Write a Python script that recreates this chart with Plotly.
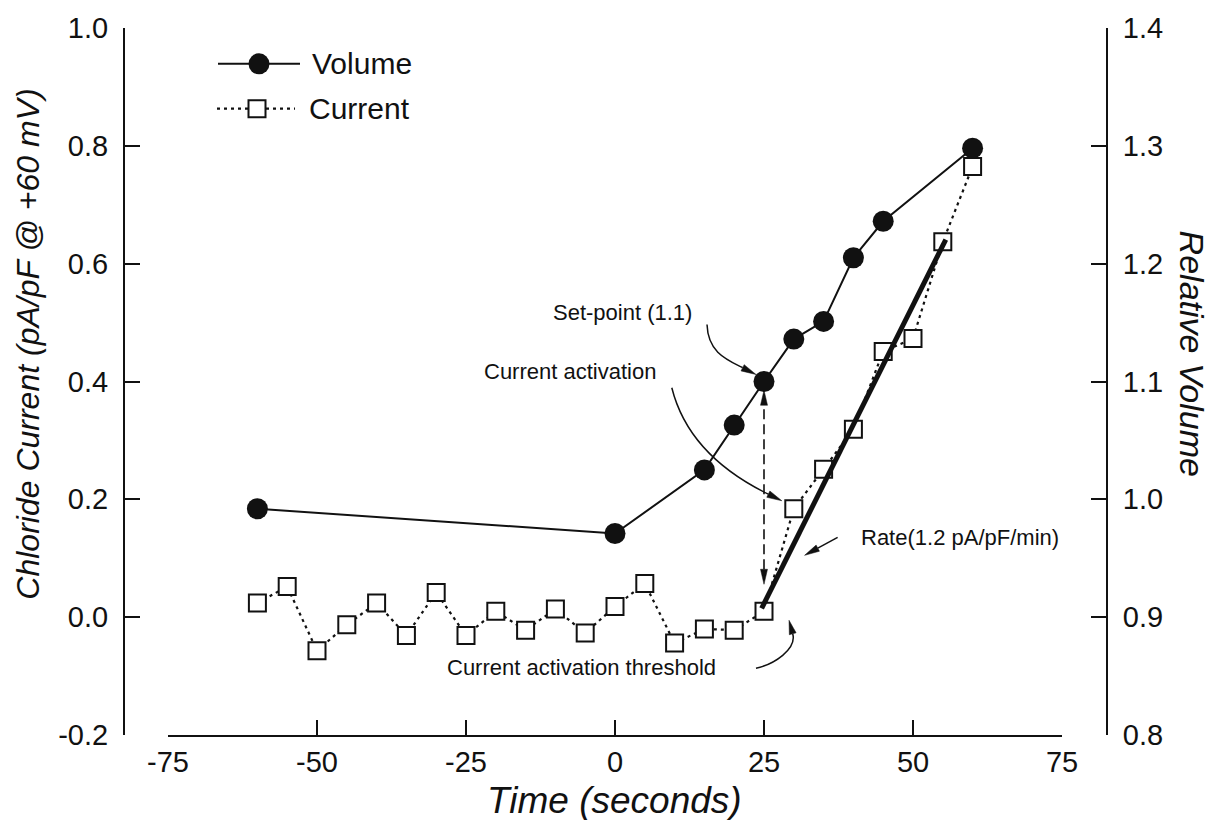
import math
import plotly.graph_objects as go

# ---------------- data ----------------
time_volume = [-60, 0, 15, 20, 25, 30, 35, 40, 45, 60]
relative_volume = [0.992, 0.971, 1.025, 1.063, 1.100, 1.136, 1.151, 1.205, 1.236, 1.298]

time_current = [-60, -55, -50, -45, -40, -35, -30, -25, -20, -15, -10, -5, 0,
                5, 10, 15, 20, 25, 30, 35, 40, 45, 50, 55, 60]
chloride_current = [0.024, 0.052, -0.057, -0.013, 0.024, -0.031, 0.042, -0.031, 0.010,
                    -0.022, 0.014, -0.027, 0.018, 0.057, -0.044, -0.020, -0.022, 0.010,
                    0.184, 0.251, 0.319, 0.451, 0.473, 0.637, 0.765]

fit_time = [24.6, 55.5]
fit_current = [0.015, 0.641]

x_ticks = [-75, -50, -25, 0, 25, 50, 75]
x_ticklabels = ["-75", "-50", "-25", "0", "25", "50", "75"]
y_ticks = [-0.2, 0.0, 0.2, 0.4, 0.6, 0.8, 1.0]
y_ticklabels = ["-0.2", "0.0", "0.2", "0.4", "0.6", "0.8", "1.0"]
y2_ticks = [0.8, 0.9, 1.0, 1.1, 1.2, 1.3, 1.4]
y2_ticklabels = ["0.8", "0.9", "1.0", "1.1", "1.2", "1.3", "1.4"]

series_names = ["Volume", "Current"]
x_title = "Time (seconds)"
y_title = "Chloride Current (pA/pF @ +60 mV)"
y2_title = "Relative Volume"
label_setpoint = "Set-point (1.1)"
label_activation = "Current activation"
label_rate = "Rate(1.2 pA/pF/min)"
label_threshold = "Current activation threshold"

# ---------------- style ----------------
INK = "#111111"
FONT = "Liberation Sans, Arial, Helvetica, sans-serif"
TICK_SIZE = 29
LEGEND_SIZE = 30
NOTE_SIZE = 22

fig = go.Figure()

fig.add_trace(go.Scatter(
    x=time_current, y=chloride_current, name=series_names[1], mode="lines+markers",
    line=dict(color=INK, width=2.2, dash="3px,4px"),
    marker=dict(symbol="square", size=17, color="white", line=dict(color=INK, width=2)),
    yaxis="y", showlegend=False))

fig.add_trace(go.Scatter(
    x=fit_time, y=fit_current, mode="lines", line=dict(color=INK, width=5),
    yaxis="y", showlegend=False, hoverinfo="skip"))

fig.add_trace(go.Scatter(
    x=time_volume, y=relative_volume, name=series_names[0], mode="lines+markers",
    line=dict(color=INK, width=2),
    marker=dict(symbol="circle", size=21, color=INK),
    yaxis="y2", showlegend=False))


# ---------------- arrows (pixel offsets around anchor points) ----------------
def head_path(tip, direction, length=15, width=7):
    ux, uy = direction
    n = math.hypot(ux, uy)
    ux, uy = ux / n, uy / n
    bx, by = tip[0] - length * ux, tip[1] - length * uy
    px, py = -uy * width / 2, ux * width / 2
    path = (f"M{tip[0]:.2f},{tip[1]:.2f} L{bx + px:.2f},{by + py:.2f} "
            f"L{bx - px:.2f},{by - py:.2f} Z")
    return path, (bx, by)


def arrow(xref, yref, xa, ya, start, tip, c1=None, c2=None, lw=1.5, head=15, hw=7):
    ref = c2 if c2 is not None else start
    hp, base = head_path(tip, (tip[0] - ref[0], tip[1] - ref[1]), head, hw)
    if c1 is None:
        lp = f"M{start[0]:.2f},{start[1]:.2f} L{base[0]:.2f},{base[1]:.2f}"
    else:
        lp = (f"M{start[0]:.2f},{start[1]:.2f} C{c1[0]:.2f},{c1[1]:.2f} "
              f"{c2[0]:.2f},{c2[1]:.2f} {base[0]:.2f},{base[1]:.2f}")
    common = dict(xref=xref, yref=yref, xsizemode="pixel", ysizemode="pixel",
                  xanchor=xa, yanchor=ya, layer="above")
    return [dict(type="path", path=lp, line=dict(color=INK, width=lw), **common),
            dict(type="path", path=hp, fillcolor=INK, line=dict(color=INK, width=0.5), **common)]


iv = time_volume.index(25)
ic25 = time_current.index(25)
ic30 = time_current.index(30)

shapes = []
# Set-point arrow -> volume point at 25 s
shapes += arrow("x", "y2", time_volume[iv], relative_volume[iv],
                start=(-57, 57), c1=(-56, 30), c2=(-39, 22.6), tip=(-8, 7))
# Current activation arrow -> current point at 30 s
shapes += arrow("x", "y", time_current[ic30], chloride_current[ic30],
                start=(-122, 121), c1=(-107, 61), c2=(-57, 30), tip=(-12, 8))
# Threshold arrow -> current point at 25 s
shapes += arrow("x", "y", time_current[ic25], chloride_current[ic25],
                start=(-8, -57), c1=(10, -53), c2=(33, -38), tip=(25, -9), head=14)
# Rate arrow -> fitted line
shapes += arrow("x", "y", fit_time[0], fit_current[0],
                start=(76, 71), tip=(43, 53), head=15)

# dashed double arrow between current(25) and volume(25)
dcommon = dict(xref="x", yref="y", xsizemode="pixel", ysizemode="pixel",
               xanchor=time_current[ic25], yanchor=chloride_current[ic25], layer="above")
hp_dn, b_dn = head_path((0, 27), (0, -1), 15, 7)
hp_up, b_up = head_path((0, 221), (0, 1), 15, 7)
shapes.append(dict(type="path", path=f"M0,{b_dn[1]:.2f} L0,{b_up[1]:.2f}",
                   line=dict(color=INK, width=1.6, dash="10px,5px"), **dcommon))
shapes.append(dict(type="path", path=hp_dn, fillcolor=INK, line=dict(color=INK, width=0.5), **dcommon))
shapes.append(dict(type="path", path=hp_up, fillcolor=INK, line=dict(color=INK, width=0.5), **dcommon))

# ---------------- manual legend (paper coords) ----------------
L, R, T, B = 124, 110, 25, 85
W, H = 1217, 820
PW, PH = W - L - R, H - T - B


def px2paper(px, py):
    return (px - L) / PW, (H - B - py) / PH


lx0, ly_v = px2paper(218, 61)
lx1, _ = px2paper(300, 61)
mx_v, _ = px2paper(259, 61)
tx_v, _ = px2paper(310, 61)
cx0, ly_c = px2paper(217, 106)
cx1, _ = px2paper(295, 106)
mx_c, _ = px2paper(257, 106)
tx_c, _ = px2paper(307, 106)

shapes.append(dict(type="line", xref="paper", yref="paper", x0=lx0, x1=lx1, y0=ly_v, y1=ly_v,
                   line=dict(color=INK, width=2)))
shapes.append(dict(type="circle", xref="paper", yref="paper", xsizemode="pixel", ysizemode="pixel",
                   xanchor=mx_v, yanchor=ly_v, x0=-10.5, x1=10.5, y0=-10.5, y1=10.5,
                   fillcolor=INK, line=dict(color=INK, width=0)))
shapes.append(dict(type="line", xref="paper", yref="paper", x0=cx0, x1=cx1, y0=ly_c, y1=ly_c,
                   line=dict(color=INK, width=2.2, dash="3px,4px")))
shapes.append(dict(type="rect", xref="paper", yref="paper", xsizemode="pixel", ysizemode="pixel",
                   xanchor=mx_c, yanchor=ly_c, x0=-8.5, x1=8.5, y0=-8.5, y1=8.5,
                   fillcolor="white", line=dict(color=INK, width=2)))

annotations = [
    dict(text=series_names[0], xref="paper", yref="paper", x=tx_v, y=ly_v, xanchor="left",
         yanchor="middle", showarrow=False, font=dict(size=LEGEND_SIZE, color=INK, family=FONT)),
    dict(text=series_names[1], xref="paper", yref="paper", x=tx_c, y=ly_c, xanchor="left",
         yanchor="middle", showarrow=False, font=dict(size=LEGEND_SIZE, color=INK, family=FONT)),
]

# axis titles
ax_x, ax_y = px2paper(614, 801)
ay_x, ay_y = px2paper(28, 343)
ay2_x, ay2_y = px2paper(1192, 352)
annotations += [
    dict(text=f"<i>{x_title}</i>", xref="paper", yref="paper", x=ax_x, y=ax_y, xanchor="center",
         yanchor="middle", showarrow=False, font=dict(size=37, color=INK, family=FONT)),
    dict(text=f"<i>{y_title}</i>", xref="paper", yref="paper", x=ay_x, y=ay_y, xanchor="center",
         yanchor="middle", textangle=-90, showarrow=False, font=dict(size=32, color=INK, family=FONT)),
    dict(text=f"<i>{y2_title}</i>", xref="paper", yref="paper", x=ay2_x, y=ay2_y, xanchor="center",
         yanchor="middle", textangle=90, showarrow=False, font=dict(size=34, color=INK, family=FONT)),
]

# note labels (pixel positions converted to paper)
notes = [
    (label_setpoint, 552, 311, "left"),
    (label_activation, 657, 370, "right"),
    (label_rate, 860, 537, "left"),
    (label_threshold, 446, 667, "left"),
]
for txt, px, py, anc in notes:
    nx, ny = px2paper(px, py)
    annotations.append(dict(text=txt, xref="paper", yref="paper", x=nx, y=ny, xanchor=anc,
                            yanchor="middle", showarrow=False, borderpad=0,
                            font=dict(size=NOTE_SIZE, color=INK, family=FONT)))

axis_common = dict(showline=True, linewidth=2, linecolor=INK, ticks="inside", ticklen=15,
                   tickwidth=2, tickcolor=INK, showgrid=False, zeroline=False,
                   tickfont=dict(size=TICK_SIZE, color=INK, family=FONT), tickmode="array")

fig.update_layout(
    width=W, height=H,
    margin=dict(l=L, r=R, t=T, b=B, pad=0),
    paper_bgcolor="white", plot_bgcolor="white",
    showlegend=False,
    xaxis=dict(range=[-75, 75], domain=[(168 - L) / PW, (1062 - L) / PW], anchor="y",
               tickvals=x_ticks, ticktext=x_ticklabels, ticklabelstandoff=0, **axis_common),
    yaxis=dict(range=[-0.2, 1.0], anchor="free", position=0, side="left",
               tickvals=y_ticks, ticktext=y_ticklabels, ticklabelstandoff=9, **axis_common),
    yaxis2=dict(range=[0.8, 1.4], anchor="free", position=1, side="right", overlaying="y",
                tickvals=y2_ticks, ticktext=y2_ticklabels, ticklabelstandoff=9, **axis_common),
    shapes=shapes,
    annotations=annotations,
)

fig.write_html("out.html")
